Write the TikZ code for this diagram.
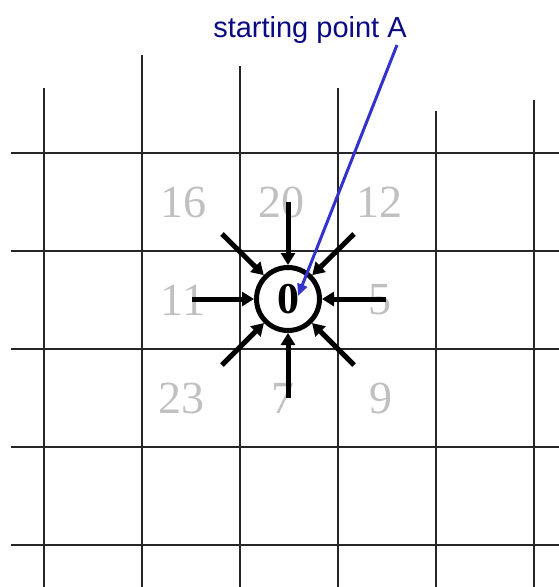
\documentclass[tikz,border=0pt]{standalone}
\usepackage{fontspec}
\setmainfont{Liberation Serif}
\newfontfamily\labelfont{Liberation Sans}
\usetikzlibrary{arrows.meta,positioning}
\definecolor{numgray}{RGB}{192,192,192}
\definecolor{labelnavy}{RGB}{10,10,130}
\definecolor{pointerblue}{RGB}{51,51,204}

\begin{document}
\begin{tikzpicture}[x=1pt,y=-1pt,
    gridline/.style={line width=1.5pt,black!85},
    cost/.style={text=numgray,font=\fontsize{46}{46}\selectfont,inner sep=0pt},
    origin/.style={draw,circle,fill=white,line width=5pt,minimum size=63pt,inner sep=0pt,font=\bfseries\fontsize{44}{44}\selectfont},
    arr/.style={line width=5pt,-{Triangle[length=12pt,width=14pt]}},
    pointer/.style={line width=3pt,pointerblue,-{Triangle[length=12pt,width=10pt]}}
]
\useasboundingbox (0,0) rectangle (559,587);

\foreach \y in {153,251,349,447,545} \draw[gridline] (11,\y) -- (559,\y);
\foreach \x/\top in {44/88,142/55,240/66,338/88,436/111,534/100} \draw[gridline] (\x,\top) -- (\x,587);

\node[cost] (c16) at (183,202) {16};
\node[cost] (c20) at (281,202) {20};
\node[cost] (c12) at (379,202) {12};
\node[cost] (c11) at (183,300) {11};
\node[cost] (c5) at (380,300) {5};
\node[cost] (c23) at (181,398) {23};
\node[cost] (c7) at (283,398) {7};
\node[cost] (c9) at (381,398) {9};

\node[origin] (start) at (288,299) {0};

\coordinate (fromN) at (288,202);
\coordinate (fromS) at (288,398);
\coordinate (fromW) at (192,299);
\coordinate (fromE) at (386,299);
\coordinate (fromNW) at (222,234);
\coordinate (fromNE) at (354,234);
\coordinate (fromSW) at (222,365);
\coordinate (fromSE) at (354,365);
\draw[arr] (fromN)--(start); \draw[arr] (fromS)--(start);
\draw[arr] (fromW)--(start); \draw[arr] (fromE)--(start);
\draw[arr] (fromNW)--(start); \draw[arr] (fromNE)--(start);
\draw[arr] (fromSW)--(start); \draw[arr] (fromSE)--(start);

\node[font=\labelfont\fontsize{29}{29}\selectfont,text=labelnavy,anchor=base,inner sep=0pt] (label) at (310,37) {starting point A};
\coordinate (tail) at (397,45);
\coordinate (target) at (298,296);
\draw[pointer] (tail)--(target);
\end{tikzpicture}
\end{document}
